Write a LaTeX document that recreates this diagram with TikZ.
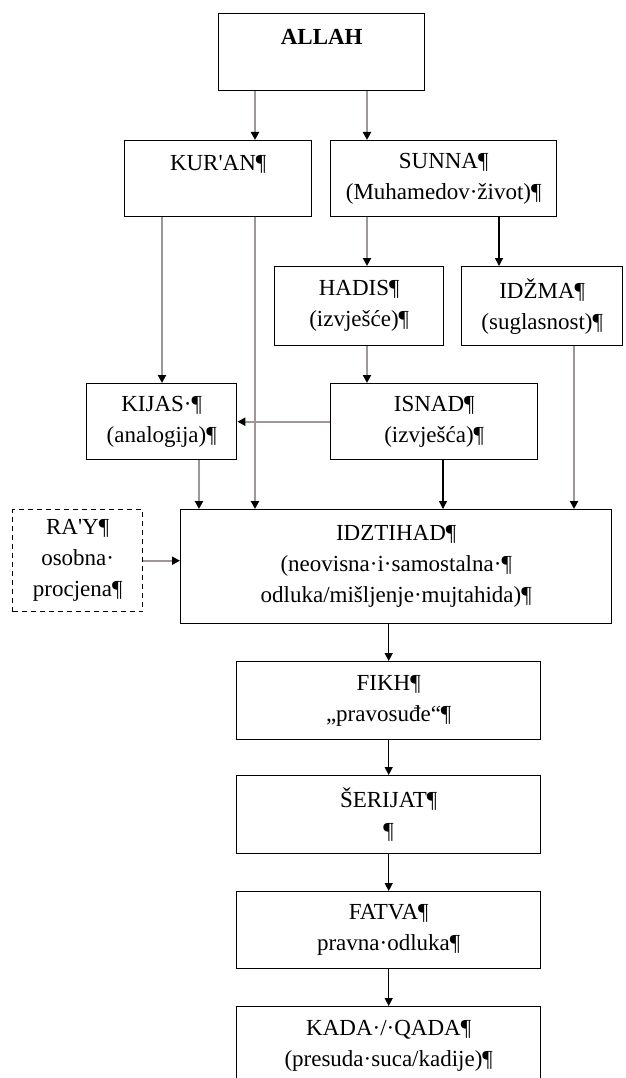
\documentclass[tikz,border=0pt]{standalone}
\usepackage{fontspec}
\setmainfont{Liberation Serif}[Ligatures=TeXOff]
\usetikzlibrary{arrows.meta}
\definecolor{gline}{RGB}{160,150,150}
\begin{document}
\begin{tikzpicture}[x=1pt,y=-1pt,
  box/.style={draw=black, line width=1.4pt, fill=white, inner sep=0pt, align=center,
    font=\fontsize{23}{31}\selectfont, anchor=north west},
  dbox/.style={box, dash pattern=on 5pt off 4pt},
  garr/.style={draw=gline, line width=2pt, -{Triangle[width=8pt,length=8pt,color=black]}},
  barr/.style={draw=black, line width=1.3pt, -{Triangle[width=8pt,length=8pt,color=black]}}]
\clip (0,0) rectangle (625,1078);
\fill[white] (0,0) rectangle (625,1078);

\node[box, minimum width=206pt, minimum height=77pt] (allah) at (218,13) {\textbf{ALLAH}\\\mbox{}};
\node[box, minimum width=187pt, minimum height=76pt] (kuran) at (124,140) {KUR'AN¶\\\mbox{}};
\node[box, minimum width=226pt, minimum height=76pt] (sunna) at (330,140) {SUNNA¶\\(Muhamedov·život)¶};
\node[box, minimum width=169pt, minimum height=79pt] (hadis) at (274,266) {HADIS¶\\(izvješće)¶};
\node[box, minimum width=161pt, minimum height=79pt] (idzma) at (461,266) {IDŽMA¶\\(suglasnost)¶};
\node[box, minimum width=150pt, minimum height=76pt] (kijas) at (86,383) {KIJAS·¶\\(analogija)¶};
\node[box, minimum width=207pt, minimum height=76pt] (isnad) at (330,383) {ISNAD¶\\(izvješća)¶};
\node[dbox, minimum width=130pt, minimum height=102pt] (ray) at (12,509) {RA'Y¶\\osobna·\\procjena¶};
\node[box, minimum width=431pt, minimum height=114pt] (idz) at (180,509) {IDZTIHAD¶\\(neovisna·i·samostalna·¶\\odluka/mišljenje·mujtahida)¶};
\node[box, minimum width=304pt, minimum height=78pt] (fikh) at (236,661) {FIKH¶\\„pravosuđe“¶};
\node[box, minimum width=304pt, minimum height=78pt] (serijat) at (236,775) {ŠERIJAT¶\\¶};
\node[box, minimum width=304pt, minimum height=77pt] (fatva) at (236,891) {FATVA¶\\pravna·odluka¶};
\node[box, minimum width=304pt, minimum height=78pt] (kada) at (236,1006) {KADA·/·QADA¶\\(presuda·suca/kadije)¶};

\coordinate (xa) at (255,0);
\coordinate (xb) at (367,0);
\coordinate (xc) at (162,0);
\coordinate (xd) at (499,0);
\coordinate (xe) at (199,0);
\coordinate (xf) at (443,0);
\coordinate (xg) at (574,0);

\draw[garr] (allah.south -| xa) -- (kuran.north -| xa);
\draw[garr] (allah.south -| xb) -- (sunna.north -| xb);
\draw[garr] (kuran.south -| xc) -- (kijas.north -| xc);
\draw[garr] (kuran.south -| xa) -- (idz.north -| xa);
\draw[garr] (sunna.south -| xb) -- (hadis.north -| xb);
\draw[barr] (sunna.south -| xd) -- (idzma.north -| xd);
\draw[garr] (hadis.south -| xb) -- (isnad.north -| xb);
\draw[garr] (isnad.west) -- (isnad.west -| kijas.east);
\draw[garr] (kijas.south -| xe) -- (idz.north -| xe);
\draw[barr] (isnad.south -| xf) -- (idz.north -| xf);
\draw[garr] (idzma.south -| xg) -- (idz.north -| xg);
\draw[garr] (ray.east) -- (ray.east -| idz.west);
\draw[barr] (idz.south -| fikh.north) -- (fikh.north);
\draw[barr] (fikh.south) -- (serijat.north);
\draw[barr] (serijat.south) -- (fatva.north);
\draw[barr] (fatva.south) -- (kada.north);
\end{tikzpicture}
\end{document}
